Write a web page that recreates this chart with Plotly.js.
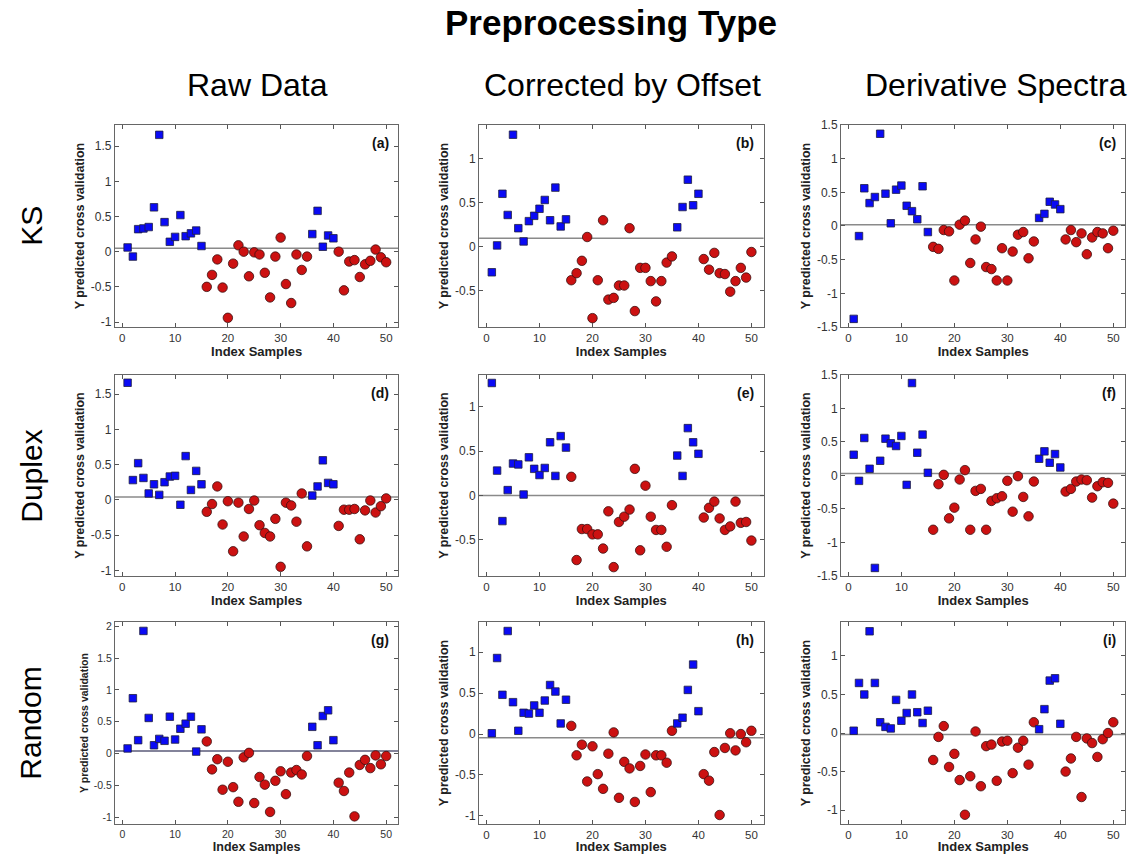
<!DOCTYPE html>
<html>
<head>
<meta charset="utf-8">
<script src="https://cdn.plot.ly/plotly-3.0.1.min.js"></script>
<style>html,body{margin:0;padding:0;background:#fff;}#chart{width:1138px;height:854px;}</style>
</head>
<body>
<div id="chart"></div>
<script>
// ---- data ----
const sampleIndex = [1,2,3,4,5,6,7,8,9,10,11,12,13,14,15,16,17,18,19,20,21,22,23,24,25,26,27,28,29,30,31,32,33,34,35,36,37,38,39,40,41,42,43,44,45,46,47,48,49,50];
const calibrationIdx = [1,2,3,4,5,6,7,8,9,10,11,12,13,14,15,36,37,38,39,40];

const panelLabels = ['(a)','(b)','(c)','(d)','(e)','(f)','(g)','(h)','(i)'];
const columnTitles = ['Raw Data','Corrected by Offset','Derivative Spectra'];
const rowTitles = ['KS','Duplex','Random'];
const mainTitle = 'Preprocessing Type';
const xTickVals = [0,10,20,30,40,50];

const yA = [0.06,-0.07,0.32,0.33,0.35,0.63,1.66,0.42,0.14,0.21, 0.52,0.22,0.26,0.30,0.08,-0.50,-0.33,-0.11,-0.51,-0.94, -0.17,0.09,0.00,-0.35,-0.01,-0.04,-0.30,-0.65,-0.07,0.20, -0.46,-0.73,-0.04,-0.26,-0.07,0.25,0.58,0.07,0.23,0.19, 0.00,-0.55,-0.14,-0.12,-0.36,-0.18,-0.13,0.03,-0.08,-0.15];
const yB = [-0.29,0.015,0.60,0.36,1.27,0.21,0.06,0.29,0.35,0.43, 0.53,0.30,0.67,0.23,0.31,-0.38,-0.30,-0.16,0.11,-0.81, -0.38,0.30,-0.60,-0.58,-0.44,-0.44,0.21,-0.73,-0.24,-0.24, -0.39,-0.62,-0.39,-0.18,-0.11,0.22,0.45,0.76,0.47,0.60, -0.14,-0.26,-0.07,-0.30,-0.31,-0.51,-0.39,-0.24,-0.35,-0.06];
const yC = [-1.38,-0.15,0.56,0.34,0.43,1.37,0.48,0.04,0.54,0.60, 0.30,0.22,0.10,0.59,-0.09,-0.31,-0.34,-0.06,-0.08,-0.81, 0.02,0.08,-0.55,-0.20,-0.01,-0.61,-0.64,-0.81,-0.33,-0.81, -0.38,-0.13,-0.09,-0.48,-0.23,0.12,0.18,0.36,0.32,0.25, -0.20,-0.06,-0.24,-0.11,-0.42,-0.17,-0.09,-0.11,-0.33,-0.07];
const yD = [1.66,0.28,0.52,0.31,0.09,0.22,0.07,0.25,0.33,0.34, -0.07,0.62,0.14,0.41,0.22,-0.17,-0.06,0.19,-0.35,-0.02, -0.73,-0.04,-0.52,-0.13,-0.01,-0.36,-0.47,-0.52,-0.27,-0.95, -0.04,-0.08,-0.31,0.09,-0.66,0.06,0.19,0.56,0.24,0.22, -0.37,-0.14,-0.14,-0.13,-0.56,-0.15,-0.01,-0.18,-0.09,0.02];
const yE = [1.27,0.28,-0.29,0.06,0.36,0.35,0.01,0.43,0.30,0.23, 0.31,0.60,0.22,0.67,0.54,0.21,-0.73,-0.38,-0.38,-0.44, -0.44,-0.60,-0.18,-0.81,-0.30,-0.24,-0.16,0.30,-0.62,0.11, -0.24,-0.39,-0.39,-0.58,-0.11,0.45,0.22,0.76,0.60,0.47, -0.25,-0.14,-0.07,-0.26,-0.39,-0.35,-0.07,-0.31,-0.30,-0.51];
const yF = [0.31,-0.08,0.56,0.10,-1.38,0.22,0.55,0.48,0.44,0.59, -0.14,1.38,0.34,0.61,0.04,-0.81,-0.13,0.01,-0.64,-0.48, -0.06,0.08,-0.81,-0.23,-0.20,-0.81,-0.38,-0.34,-0.31,-0.08, -0.54,-0.01,-0.32,-0.61,-0.09,0.25,0.36,0.19,0.32,0.12, -0.24,-0.20,-0.09,-0.06,-0.07,-0.33,-0.16,-0.10,-0.11,-0.42];
const yG = [0.08,0.87,0.21,1.93,0.56,0.13,0.23,0.20,0.58,0.22, 0.39,0.47,0.58,0.03,0.38,0.19,-0.25,-0.09,-0.57,-0.13, -0.53,-0.76,-0.06,0.01,-0.78,-0.37,-0.49,-0.92,-0.43,-0.28, -0.64,-0.30,-0.26,-0.33,-0.04,0.42,0.13,0.59,0.68,0.21, -0.46,-0.59,-0.30,-0.99,-0.18,-0.10,-0.23,-0.03,-0.17,-0.04];
const yH = [0.01,0.93,0.48,1.26,0.39,0.04,0.26,0.25,0.35,0.26, 0.41,0.60,0.52,0.13,0.42,0.10,-0.26,-0.13,-0.58,-0.15, -0.49,-0.67,-0.24,0.02,-0.78,-0.34,-0.42,-0.83,-0.39,-0.25, -0.71,-0.26,-0.26,-0.35,0.04,0.13,0.20,0.54,0.85,0.28, -0.49,-0.57,-0.22,-0.99,-0.17,0.01,-0.20,0.00,-0.10,0.04];
const yI = [0.03,0.65,0.50,1.32,0.65,0.14,0.08,0.06,0.43,0.16, 0.26,0.50,0.27,0.13,0.29,-0.35,-0.05,0.09,-0.44,-0.27, -0.61,-1.06,-0.56,0.02,-0.69,-0.17,-0.15,-0.62,-0.11,-0.10, -0.52,-0.19,-0.10,-0.41,0.14,0.05,0.31,0.68,0.71,0.12, -0.50,-0.33,-0.05,-0.83,-0.07,-0.13,-0.31,-0.08,0.00,0.14];

const refLine = [0.05,0.095,0.02,0.04,0.0,0.03,0.04,-0.045,-0.02];
const yRanges = [[-1.07,1.8],[-0.91,1.38],[-1.5,1.5],[-1.08,1.77],[-0.91,1.36],[-1.5,1.5],[-1.11,2.07],[-1.1,1.37],[-1.18,1.44]];
const yTickVals = [
  [-1,-0.5,0,0.5,1,1.5],
  [-0.5,0,0.5,1],
  [-1.5,-1,-0.5,0,0.5,1,1.5],
  [-1,-0.5,0,0.5,1,1.5],
  [-0.5,0,0.5,1],
  [-1.5,-1,-0.5,0,0.5,1,1.5],
  [-1,-0.5,0,0.5,1,1.5,2],
  [-1,-0.5,0,0.5,1],
  [-1,-0.5,0,0.5,1]
];
const panelData = [yA,yB,yC,yD,yE,yF,yG,yH,yI];

// ---- layout geometry (plot area = 1138 x 824, bottom margin 30) ----
const xDomains = [[0.101,0.350],[0.421,0.671],[0.739,0.989]];
const yDomains = [[0.6032,0.8483],[0.301,0.5449],[0.0,0.2451]];
const FONT = '"Liberation Sans", Arial, sans-serif';

const traces = [];
const layout = {
  width:1138, height:854,
  margin:{l:0,r:0,t:0,b:30},
  paper_bgcolor:'#ffffff', plot_bgcolor:'#ffffff',
  showlegend:false,
  font:{family:FONT, color:'#222'},
  shapes:[], annotations:[]
};

panelData.forEach((ys,k)=>{
  const row = Math.floor(k/3), col = k%3;
  const n = k+1;
  const xa = n===1?'x':'x'+n, ya = n===1?'y':'y'+n;
  const xkey = n===1?'xaxis':'xaxis'+n, ykey = n===1?'yaxis':'yaxis'+n;
  const small = (k===6);
  const tickSize = small?10.5:12;
  const bx=[],by=[],rx=[],ry=[];
  sampleIndex.forEach((s,i)=>{
    if(calibrationIdx.includes(s)){bx.push(s);by.push(ys[i]);} else {rx.push(s);ry.push(ys[i]);}
  });
  traces.push({type:'scatter',mode:'markers',x:rx,y:ry,xaxis:xa,yaxis:ya,
    marker:{symbol:'circle',size:9.5,color:'#cc1111',line:{color:'#3a1010',width:0.8}},hoverinfo:'skip'});
  traces.push({type:'scatter',mode:'markers',x:bx,y:by,xaxis:xa,yaxis:ya,
    marker:{symbol:'square',size:7.5,color:'#0a0af5',line:{color:'#202040',width:0.8}},hoverinfo:'skip'});

  layout[xkey] = {domain:xDomains[col], anchor:ya, range:[-1.4,52.3],
    tickvals:xTickVals, ticktext:xTickVals.map(String),
    ticks:'inside', ticklen:4, tickcolor:'#555', showline:true, mirror:'ticks',
    linecolor:'#666', linewidth:1, showgrid:false, zeroline:false,
    tickfont:{size:small?10.5:11.5, family:FONT, color:'#333'},
    title:{text:'Index Samples', standoff:3, font:{size:small?12.5:13, family:FONT, weight:'bold', color:'#222'}}};
  layout[ykey] = {domain:yDomains[row], anchor:xa, range:yRanges[k],
    tickvals:yTickVals[k], ticktext:yTickVals[k].map(v=>String(v)),
    ticks:'inside', ticklen:4, tickcolor:'#555', showline:true, mirror:'ticks',
    linecolor:'#666', linewidth:1, showgrid:false, zeroline:false,
    tickfont:{size:tickSize, family:FONT, color:'#333'},
    title:{text:'Y predicted cross validation', standoff:3, font:{size:small?10.5:12.5, family:FONT, weight:'bold', color:'#222'}}};

  layout.shapes.push({type:'line', xref:xa+' domain', yref:ya, x0:0, x1:1, y0:refLine[k], y1:refLine[k],
    line:{color:small?'#5a5a78':'#8a8a8a', width:1.5}, layer:'below'});
  layout.annotations.push({text:'<b>'+panelLabels[k]+'</b>', xref:xa+' domain', yref:ya+' domain',
    x:0.975, y:0.91, xanchor:'right', yanchor:'middle', showarrow:false,
    font:{size:14, family:FONT, color:'#111'}});
});

layout.annotations.push({text:'<b>'+mainTitle+'</b>', xref:'paper', yref:'paper', x:0.537, y:0.9733,
  xanchor:'center', yanchor:'middle', showarrow:false, font:{size:35, family:FONT, color:'#000'}});
const colCenters = [0.226, 0.547, 0.875];
columnTitles.forEach((t,i)=>layout.annotations.push({text:t, xref:'paper', yref:'paper', x:colCenters[i], y:0.8968,
  xanchor:'center', yanchor:'middle', showarrow:false, font:{size:32, family:FONT, color:'#000'}}));
const rowCenters = [0.7257, 0.4223, 0.1226];
rowTitles.forEach((t,i)=>layout.annotations.push({text:t, xref:'paper', yref:'paper', x:0.027, y:rowCenters[i],
  xanchor:'center', yanchor:'middle', textangle:-90, showarrow:false, font:{size:30, family:FONT, color:'#000'}}));

Plotly.newPlot('chart', traces, layout, {staticPlot:true, displayModeBar:false});
</script>
</body>
</html>
